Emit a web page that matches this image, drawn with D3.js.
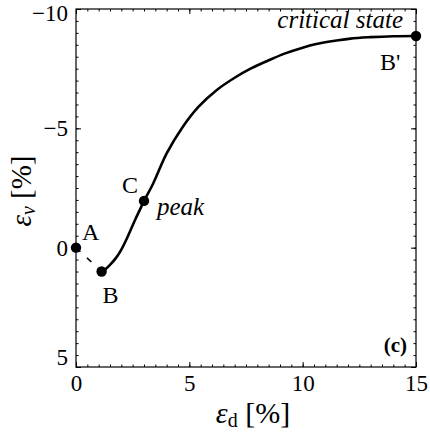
<!DOCTYPE html>
<html>
<head>
<meta charset="utf-8">
<script src="https://cdn.jsdelivr.net/npm/d3@7"></script>
<style>
  body { margin: 0; background: #fff; }
  svg { display: block; }
  svg text { font-family: "Liberation Serif", "Times New Roman", serif; fill: #000; }
  .tick line { stroke: #000; stroke-width: 1; }
</style>
</head>
<body>
<div id="chart"></div>
<script>
var svgWidth = 430;
var svgHeight = 432;
var serif = '"Liberation Serif", "Times New Roman", serif';

// strain path B -> C (peak) -> B' (critical state)
var edCurve = [1.13, 1.3, 1.5, 1.75, 2.0, 2.3, 2.6, 2.8, 3.0, 3.4, 4.0, 4.7, 5.4, 6.2, 7.0, 7.7, 8.5, 9.2, 10.0, 10.6, 11.3, 12.1, 13.0, 14.0, 15.0];
var evCurve = [1.0, 0.9, 0.72, 0.45, 0.08, -0.5, -1.15, -1.55, -1.96, -2.68, -3.95, -5.05, -5.9, -6.6, -7.12, -7.5, -7.85, -8.13, -8.38, -8.53, -8.65, -8.76, -8.82, -8.86, -8.87];

// labelled points
var pointNames = ["A", "B", "C", "B'"];
var pointEd = [0, 1.13, 3.0, 15.0];
var pointEv = [0, 1.0, -1.96, -8.87];

var xTicks = [0, 5, 10, 15];
var yTicks = [-10, -5, 0, 5];

var x = d3.scaleLinear().domain([0, 15]).range([76, 416]);
var y = d3.scaleLinear().domain([-10, 5]).range([9, 367]);

var svg = d3.select("#chart").append("svg")
  .attr("width", svgWidth)
  .attr("height", svgHeight)
  .attr("font-family", serif);

// minor ticks every 0.5 on all four sides
var xMinor = d3.range(0, 15.01, 0.5);
var yMinor = d3.range(-10, 5.01, 0.5);

function drawAxis(axis, tx, ty, labels) {
  var g = svg.append("g")
    .attr("transform", `translate(${tx}, ${ty})`)
    .call(axis)
    .attr("font-family", null)
    .attr("font-size", null);
  g.select(".domain").remove();
  if (!labels) g.selectAll("text").remove();
  g.selectAll("text").attr("font-family", serif).attr("font-size", 23);
  return g;
}

drawAxis(d3.axisBottom(x).tickValues(xMinor).tickSize(-2.5).tickFormat(""), 0, 367, false);
drawAxis(d3.axisTop(x).tickValues(xMinor).tickSize(-2.5).tickFormat(""), 0, 9, false);
drawAxis(d3.axisLeft(y).tickValues(yMinor).tickSize(-2.5).tickFormat(""), 76, 0, false);
drawAxis(d3.axisRight(y).tickValues(yMinor).tickSize(-2.5).tickFormat(""), 416, 0, false);

drawAxis(d3.axisTop(x).tickValues(xTicks).tickSize(-5).tickFormat(""), 0, 9, false);
drawAxis(d3.axisRight(y).tickValues(yTicks).tickSize(-5).tickFormat(""), 416, 0, false);

drawAxis(d3.axisBottom(x).tickValues(xTicks).tickSize(-5).tickPadding(8).tickFormat(d3.format("d")), 0, 367, true);
var yAxis = drawAxis(d3.axisLeft(y).tickValues(yTicks).tickSize(-5).tickPadding(8).tickFormat(d3.format("d")), 76, 0, true);

// nudge the end labels so they stay inside the page and clear each other
yAxis.selectAll(".tick").filter(d => d === 5).select("text")
  .attr("dy", "-0.1em");
yAxis.selectAll(".tick").filter(d => d === -10).select("text")
  .attr("dy", "0.5em");

// frame
svg.append("rect")
  .attr("x", x(0))
  .attr("y", y(-10))
  .attr("width", x(15) - x(0))
  .attr("height", y(5) - y(-10))
  .attr("fill", "none")
  .attr("stroke", "#000")
  .attr("stroke-width", 1.2);

// dashed A -> B
svg.append("line")
  .attr("x1", x(pointEd[0]))
  .attr("y1", y(pointEv[0]))
  .attr("x2", x(pointEd[1]))
  .attr("y2", y(pointEv[1]))
  .attr("stroke", "#000")
  .attr("stroke-width", 1.6)
  .attr("stroke-dasharray", "6,9");

var line = d3.line()
  .x((d, i) => x(edCurve[i]))
  .y((d, i) => y(evCurve[i]))
  .curve(d3.curveCatmullRom);

svg.append("path")
  .datum(edCurve)
  .attr("d", line)
  .attr("fill", "none")
  .attr("stroke", "#000")
  .attr("stroke-width", 2.6);

svg.selectAll("circle.pt")
  .data(pointNames)
  .enter()
  .append("circle")
  .attr("class", "pt")
  .attr("cx", (d, i) => x(pointEd[i]))
  .attr("cy", (d, i) => y(pointEv[i]))
  .attr("r", 5.2)
  .attr("fill", "#000");

// point labels
var labelDx = [6, 1, -22, -36];
var labelDy = [-8, 31, -8, 34];
svg.selectAll("text.pt")
  .data(pointNames)
  .enter()
  .append("text")
  .attr("class", "pt")
  .attr("x", (d, i) => x(pointEd[i]) + labelDx[i])
  .attr("y", (d, i) => y(pointEv[i]) + labelDy[i])
  .attr("font-size", 24)
  .text(d => d);

svg.append("text")
  .attr("x", 157)
  .attr("y", 215)
  .attr("font-size", 25)
  .attr("font-style", "italic")
  .text("peak");

svg.append("text")
  .attr("x", 403)
  .attr("y", 28)
  .attr("text-anchor", "end")
  .attr("font-size", 25)
  .attr("font-style", "italic")
  .text("critical state");

svg.append("text")
  .attr("x", 407)
  .attr("y", 352)
  .attr("text-anchor", "end")
  .attr("font-size", 21)
  .attr("font-weight", "bold")
  .text("(c)");

// axis titles
var xTitle = svg.append("text")
  .attr("x", 253)
  .attr("y", 423)
  .attr("text-anchor", "middle")
  .attr("font-size", 30);
xTitle.append("tspan").attr("font-style", "italic").text("ε");
xTitle.append("tspan").attr("dy", 4).attr("font-size", 20).text("d");
xTitle.append("tspan").attr("dy", -4).text(" [%]");

var yTitle = svg.append("text")
  .attr("transform", "translate(31, 191) rotate(-90)")
  .attr("text-anchor", "middle")
  .attr("font-size", 29);
yTitle.append("tspan").attr("font-style", "italic").text("ε");
yTitle.append("tspan").attr("dy", 4).attr("font-size", 20).attr("font-style", "italic").text("v");
yTitle.append("tspan").attr("dy", -4).text(" [%]");
</script>
</body>
</html>
